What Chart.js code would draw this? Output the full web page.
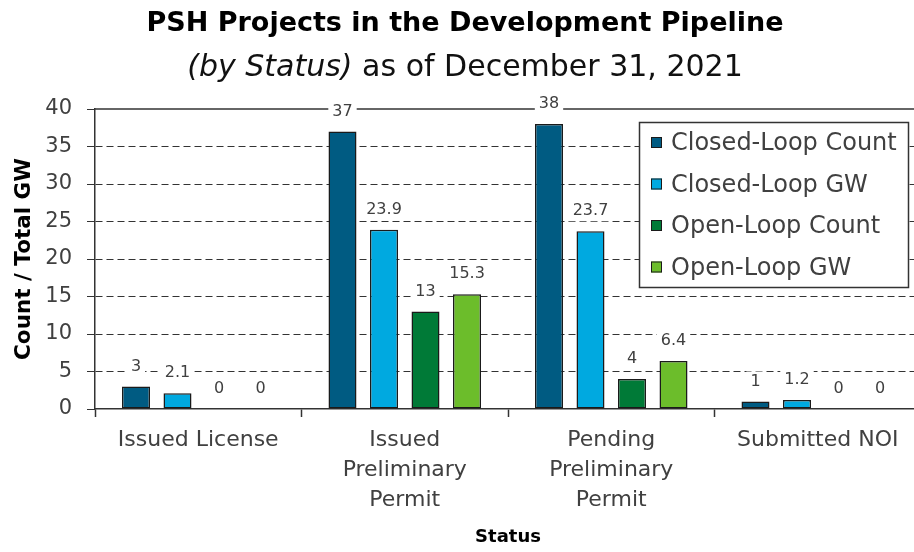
<!DOCTYPE html>
<html>
<head>
<meta charset="utf-8">
<script src="https://cdn.jsdelivr.net/npm/chart.js@4.4.1/dist/chart.umd.min.js"></script>
<style>
    html, body { margin: 0; padding: 0; background: #fff; overflow: hidden; }
    #wrap { width: 930px; height: 552px; }
</style>
</head>
<body>
<div id="wrap"><canvas id="chart" width="930" height="552"></canvas></div>
<script>
// data
const categories = [
    ["Issued License"],
    ["Issued", "Preliminary", "Permit"],
    ["Pending", "Preliminary", "Permit"],
    ["Submitted NOI"],
];
const closedLoopCount = [3, 37, 38, 1];
const closedLoopGW = [2.1, 23.9, 23.7, 1.2];
const openLoopCount = [0, 13, 4, 0];
const openLoopGW = [0, 15.3, 6.4, 0];
const seriesNames = ["Closed-Loop Count", "Closed-Loop GW", "Open-Loop Count", "Open-Loop GW"];
const seriesColors = ["#005b82", "#00a9e0", "#007a37", "#6cbd2b"];
const yMin = 0;
const yMax = 40;
const yStep = 5;

const FONT = "'DejaVu Sans', sans-serif";
const TEXT = "#404040";
const LINE = "#333333";

// titles, value labels, top frame line and legend box
const decorations = {
    id: "decorations",
    afterDatasetsDraw(chart) {
        const ctx = chart.ctx;
        const area = chart.chartArea;
        ctx.save();

        // solid line across the top of the plot
        ctx.strokeStyle = LINE;
        ctx.lineWidth = 1.5;
        ctx.beginPath();
        ctx.moveTo(area.left, area.top);
        ctx.lineTo(area.right, area.top);
        ctx.stroke();

        // value labels above bars
        ctx.font = "16px " + FONT;
        ctx.textAlign = "center";
        ctx.textBaseline = "middle";
        chart.data.datasets.forEach((ds, i) => {
            const meta = chart.getDatasetMeta(i);
            meta.data.forEach((bar, j) => {
                const txt = String(ds.data[j]);
                const w = ctx.measureText(txt).width + 8;
                const y = bar.y - 20;
                ctx.fillStyle = "#fff";
                ctx.fillRect(bar.x - w / 2, y - 10, w, 20);
                ctx.fillStyle = TEXT;
                ctx.fillText(txt, bar.x, y);
            });
        });

        // chart title
        const cx = chart.width / 2;
        ctx.fillStyle = "#000";
        ctx.textBaseline = "alphabetic";
        ctx.font = "bold 27px " + FONT;
        ctx.fillText("PSH Projects in the Development Pipeline", cx, 31);

        // subtitle, part italic
        const partA = "(by Status)";
        const partB = " as of December 31, 2021";
        ctx.font = "italic 30px " + FONT;
        const wA = ctx.measureText(partA).width;
        ctx.font = "30px " + FONT;
        const wB = ctx.measureText(partB).width;
        let sx = cx - (wA + wB) / 2;
        ctx.textAlign = "left";
        ctx.fillStyle = "#111";
        ctx.font = "italic 30px " + FONT;
        ctx.fillText(partA, sx, 76);
        ctx.font = "30px " + FONT;
        ctx.fillText(partB, sx + wA, 76);

        // legend box
        const lx = 639.5, ly = 122.5, lw = 269, lh = 165;
        ctx.fillStyle = "#fff";
        ctx.fillRect(lx, ly, lw, lh);
        ctx.strokeStyle = LINE;
        ctx.lineWidth = 1.5;
        ctx.strokeRect(lx, ly, lw, lh);
        ctx.font = "24px " + FONT;
        ctx.textBaseline = "middle";
        chart.data.datasets.forEach((ds, i) => {
            const ry = 144 + i * 41.5;
            ctx.fillStyle = ds.backgroundColor;
            ctx.fillRect(651, ry - 7, 11, 11);
            ctx.strokeStyle = "#1a1a1a";
            ctx.lineWidth = 1;
            ctx.strokeRect(651.5, ry - 6.5, 10, 10);
            ctx.fillStyle = TEXT;
            ctx.fillText(ds.label, 671, ry);
        });

        ctx.restore();
    },
};

const seriesData = [closedLoopCount, closedLoopGW, openLoopCount, openLoopGW];

new Chart(document.getElementById("chart"), {
    type: "bar",
    data: {
        labels: categories,
        datasets: seriesData.map((values, i) => ({
            label: seriesNames[i],
            data: values,
            backgroundColor: seriesColors[i],
            borderColor: "#1a1a1a",
            borderWidth: 1.5,
            borderSkipped: false,
            categoryPercentage: 0.804,
            barPercentage: 0.675,
        })),
    },
    options: {
        responsive: false,
        animation: false,
        layout: { padding: { top: 109, left: 0, right: 9, bottom: 0 } },
        plugins: {
            legend: { display: false },
            title: { display: false },
            tooltip: { enabled: false },
        },
        scales: {
            x: {
                afterFit: (scale) => { scale.height = 143; },
                grid: {
                    offset: true,
                    drawOnChartArea: false,
                    drawTicks: true,
                    tickLength: 8,
                    tickColor: LINE,
                    tickWidth: 1.5,
                },
                border: { display: true, color: LINE, width: 1.5 },
                ticks: {
                    color: TEXT,
                    padding: 8,
                    maxRotation: 0,
                    autoSkip: false,
                    font: { family: FONT, size: 22, lineHeight: "30px" },
                },
                title: {
                    display: true,
                    text: "Status",
                    color: "#000",
                    padding: { top: 0, bottom: 4 },
                    font: { family: FONT, size: 18, weight: "bold", lineHeight: 1.2 },
                },
            },
            y: {
                min: yMin,
                max: yMax,
                afterFit: (scale) => { scale.width = 95; },
                grid: {
                    color: (c) => (c.tick && (c.tick.value === yMax || c.tick.value === yMin) ? "rgba(0,0,0,0)" : LINE),
                    tickColor: LINE,
                    tickLength: 8,
                    lineWidth: 1,
                },
                border: { display: true, color: LINE, width: 1.5, dash: [7, 4] },
                ticks: {
                    stepSize: yStep,
                    color: TEXT,
                    padding: 15,
                    font: { family: FONT, size: 21 },
                },
                title: {
                    display: true,
                    text: "Count / Total GW",
                    color: "#000",
                    padding: { top: 12, bottom: 0 },
                    font: { family: FONT, size: 21.5, weight: "bold", lineHeight: 1.2 },
                },
            },
        },
    },
    plugins: [decorations],
});
</script>
</body>
</html>
